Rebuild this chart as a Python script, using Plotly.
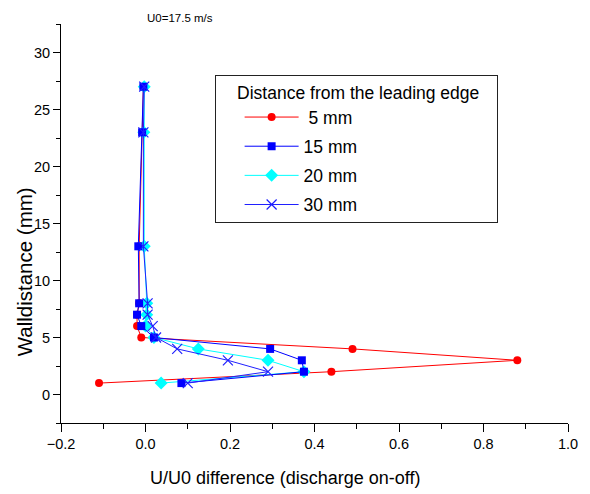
import plotly.graph_objects as go

# Wall distance (mm) for every profile
wall_distance = [1, 2, 3, 4, 5, 6, 7, 8, 13, 23, 27]

# U/U0 difference (discharge on - off) per distance from leading edge
d5_mm = [-0.11, 0.44, 0.88, 0.49, -0.01, -0.02, -0.02, -0.015, -0.015, -0.007, -0.005]
d15_mm = [0.085, 0.375, 0.37, 0.295, 0.02, -0.01, -0.02, -0.015, -0.017, -0.008, -0.005]
d20_mm = [0.037, 0.375, 0.29, 0.125, 0.02, 0.0, 0.003, 0.003, -0.003, -0.004, -0.003]
d30_mm = [0.10, 0.29, 0.195, 0.075, 0.025, 0.017, 0.005, 0.005, -0.005, -0.005, -0.003]

series_names = ["\u00a05 mm", "15 mm", "20 mm", "30 mm"]
legend_title = "\u00a0\u00a0\u00a0\u00a0Distance from the leading edge\u00a0\u00a0\u00a0"

x_ticks = [-0.2, 0.0, 0.2, 0.4, 0.6, 0.8, 1.0]
y_ticks = [0, 5, 10, 15, 20, 25, 30]

FONT = "Liberation Sans, Arial, sans-serif"

fig = go.Figure()

# draw order: red, cyan, blue squares, blue crosses (legend ranked separately)
fig.add_trace(go.Scatter(
    x=d5_mm, y=wall_distance, name=series_names[0], mode="lines+markers",
    line=dict(color="#FF0000", width=1),
    marker=dict(symbol="circle", size=8, color="#FF0000"),
    legendrank=1, legendgroup="a"))
fig.add_trace(go.Scatter(
    x=d20_mm, y=wall_distance, name=series_names[2], mode="lines+markers",
    line=dict(color="#00FFFF", width=1),
    marker=dict(symbol="diamond", size=10, color="#00FFFF"),
    legendrank=3, legendgroup="c"))
fig.add_trace(go.Scatter(
    x=d15_mm, y=wall_distance, name=series_names[1], mode="lines+markers",
    line=dict(color="#0000FF", width=1),
    marker=dict(symbol="square", size=8, color="#0000FF"),
    legendrank=2, legendgroup="b"))
fig.add_trace(go.Scatter(
    x=d30_mm, y=wall_distance, name=series_names[3], mode="lines+markers",
    line=dict(color="#2020FF", width=1),
    marker=dict(symbol="x-thin", size=10, color="#2020FF",
                line=dict(color="#2020FF", width=1.2)),
    legendrank=4, legendgroup="d"))

fig.update_layout(
    width=590, height=494,
    margin=dict(l=61, r=20, t=24, b=71),
    paper_bgcolor="white", plot_bgcolor="white",
    font=dict(family=FONT, color="black", size=14.5),
    showlegend=True,
    legend=dict(
        x=0.303, y=(423 - 75) / 399.5, xanchor="left", yanchor="top",
        bordercolor="#222222", borderwidth=1, bgcolor="white",
        font=dict(family=FONT, size=17.5, color="black"),
        title=dict(text=legend_title,
                   font=dict(family=FONT, size=17.5, color="black")),
        tracegroupgap=3.4, indentation=24, itemwidth=54,
    ),
    xaxis=dict(
        range=[-0.2, 1.0], tickvals=x_ticks, tickformat=".1f",
        showline=True, linecolor="black", linewidth=1,
        ticks="outside", ticklen=8, tickwidth=1, tickcolor="black",
        minor=dict(dtick=0.1, ticks="outside", ticklen=5, tickcolor="black", tickwidth=1),
        showgrid=False, zeroline=False,
        tickfont=dict(family=FONT, size=14.5),
    ),
    yaxis=dict(
        range=[-2.5, 32.5], tickvals=y_ticks,
        showline=True, linecolor="black", linewidth=1,
        ticks="outside", ticklen=7, tickwidth=1, tickcolor="black",
        minor=dict(dtick=2.5, ticks="outside", ticklen=4, tickcolor="black", tickwidth=1),
        showgrid=False, zeroline=False,
        tickfont=dict(family=FONT, size=14.5),
    ),
    annotations=[
        dict(text="U/U0 difference (discharge on-off)", xref="paper", yref="paper",
             x=(286 - 61) / 509, y=-(478 - 423) / 399.5, xanchor="center", yanchor="middle",
             showarrow=False, font=dict(family=FONT, size=18)),
        dict(text="Walldistance (mm)", xref="paper", yref="paper",
             x=-(61 - 24) / 509, y=(423 - 272) / 399.5, xanchor="center", yanchor="middle",
             textangle=-90, showarrow=False, font=dict(family=FONT, size=20.5)),
        dict(text="U0=17.5 m/s", xref="paper", yref="paper",
             x=(145 - 61) / 509, y=(423 - 17) / 399.5, xanchor="left", yanchor="middle",
             showarrow=False, font=dict(family=FONT, size=11.5)),
    ],
)

fig.write_html("out.html")
